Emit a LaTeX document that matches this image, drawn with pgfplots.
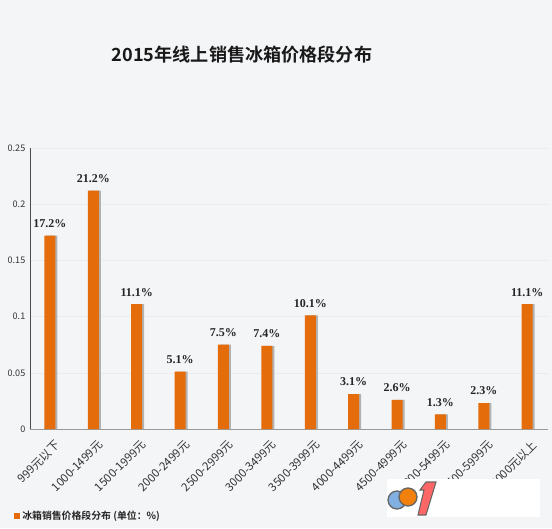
\documentclass[border=0pt]{standalone}
\usepackage{pgfplots}
\pgfplotsset{compat=1.18}
\usepackage{fontspec}
\setmainfont{Liberation Serif}
\newfontfamily\cjk{Noto Sans CJK SC}
\newfontfamily\cjkb{Noto Sans CJK SC Bold}
\definecolor{barc}{RGB}{228,108,10}
\definecolor{bg}{RGB}{244,245,247}
\begin{document}
\begin{tikzpicture}[x=0.75pt,y=0.75pt]
\fill[bg] (0,0) rectangle (552,528);
\path[use as bounding box] (0,0) rectangle (552,528);
\node[font=\cjkb\fontsize{13.6}{15}\selectfont, text=black!90] at (242,473) {2015年线上销售冰箱价格段分布};
\begin{axis}[
  at={(30pt*0.75,99pt*0.75)}, anchor=south west,
  scale only axis, width=388.5pt, height=210.75pt,
  xmin=-0.46, xmax=11.48, ymin=0, ymax=0.25,
  ytick={0,0.05,0.1,0.15,0.2,0.25},
  yticklabels={0,0.05,0.1,0.15,0.2,0.25},
  xtick={0,...,11},
  xticklabels={999元以下,1000-1499元,1500-1999元,2000-2499元,2500-2999元,3000-3499元,3500-3999元,4000-4499元,4500-4999元,5000-5499元,5500-5999元,6000元以上},
  x tick label style={xshift=3pt, yshift=-7.5pt, rotate=45, anchor=north east, font=\cjk\fontsize{8.6}{9}\selectfont, text=black!80, inner sep=0pt},
  y tick label style={font=\cjk\fontsize{6.8}{8}\selectfont, text=black!80},
  ymajorgrids, grid style={draw=black!8, line width=0.4pt},
  axis x line*=bottom, axis y line*=left,
  x axis line style={draw=black!40, line width=0.6pt, -},
  y axis line style={draw=black!70, line width=0.6pt, -},
  major tick length=0pt,
  ybar, bar width=8.25pt,
  nodes near coords style={font=\bfseries\fontsize{9}{10}\selectfont, text=black!85, yshift=2.5pt},
  axis background/.style={fill=bg},
]
\addplot[fill=black!30, draw=none, bar shift=1.5pt, forget plot] coordinates {
(0,0.172) (1,0.212) (2,0.111) (3,0.051) (4,0.075) (5,0.074) (6,0.101) (7,0.031) (8,0.026) (9,0.013) (10,0.023) (11,0.111)};
\addplot[fill=barc, draw=none, bar shift=0pt,
  point meta={y*100},
  nodes near coords={\pgfmathprintnumber[fixed,precision=1,fixed zerofill,assume math mode=true]{\pgfplotspointmeta}\%}] coordinates {
(0,0.172) (1,0.212) (2,0.111) (3,0.051) (4,0.075) (5,0.074) (6,0.101) (7,0.031) (8,0.026) (9,0.013) (10,0.023) (11,0.111)};
\end{axis}
\fill[barc] (14,9) rectangle (20,15);
\node[anchor=west, font=\cjkb\fontsize{7.4}{8}\selectfont, text=black!85, inner sep=0pt] at (22,12) {冰箱销售价格段分布 (单位：\%)};
\fill[white] (387,11) rectangle (540,49);
\filldraw[fill=cyan!60!blue!50, draw=black!60, line width=1pt] (397,28) circle (9);
\filldraw[fill=orange!80!brown, draw=black!60, line width=1pt] (408,31) circle (9);
\filldraw[fill=red!60, draw=black!60, line width=0.8pt] (418,13) -- (426,13) -- (436,46) -- (426,46) -- (420,38) -- (424,38) -- cycle;
\end{tikzpicture}
\end{document}
